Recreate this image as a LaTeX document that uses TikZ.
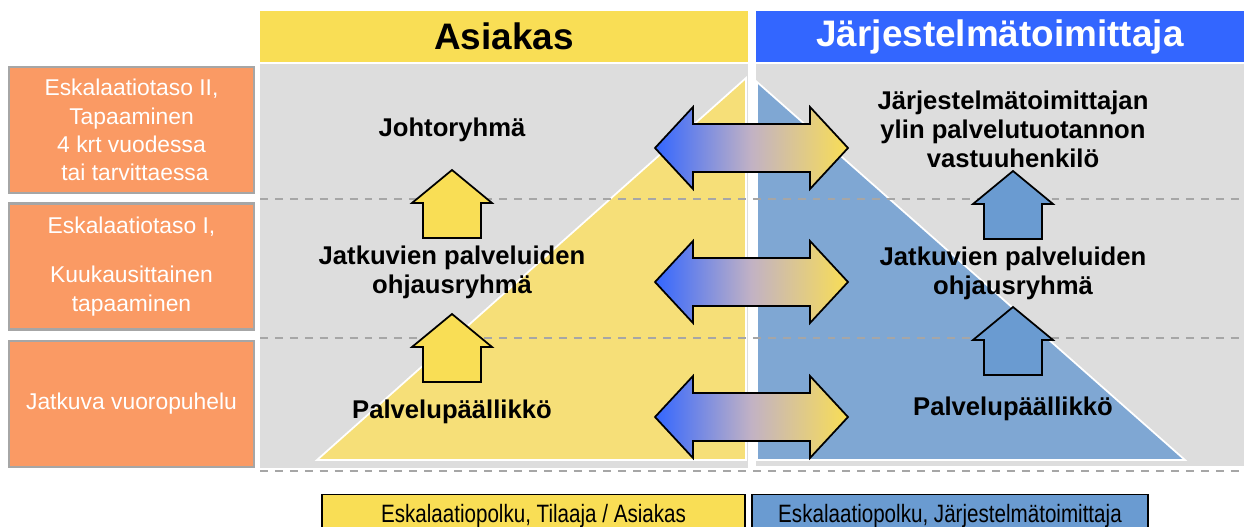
\documentclass[tikz,border=0pt]{standalone}
\usepackage{fontspec}
\setmainfont{Liberation Sans}
\newfontfamily\kapea[FakeStretch=0.82]{Liberation Sans}
\usepackage{xcolor}
\definecolor{keltainen}{HTML}{F9DE55}
\definecolor{kolmioKeltainen}{HTML}{F6DF78}
\definecolor{sininen}{HTML}{3366FF}
\definecolor{valiSavy}{HTML}{C2B2C4}
\definecolor{kolmioSininen}{HTML}{7FA7D3}
\definecolor{nuoliSininen}{HTML}{6A9BD1}
\definecolor{harmaa}{HTML}{DDDDDD}
\definecolor{viiva}{HTML}{A6A6A6}
\definecolor{oranssi}{HTML}{FA9A64}

\tikzset{
  otsikko/.style={minimum width=9.76cm, minimum height=1.02cm, inner sep=0pt,
    font=\fontsize{21}{24}\selectfont\bfseries},
  tasobox/.style={draw=viiva, line width=1.2pt, fill=oranssi, text=white,
    minimum width=4.9cm, minimum height=2.52cm, inner sep=0pt, align=center,
    font=\fontsize{13}{16}\selectfont},
  ryhma/.style={align=center, font=\fontsize{14.6}{16.5}\selectfont\bfseries},
  selite/.style={draw=black, line width=0.8pt, minimum height=0.84cm, inner sep=0pt,
    anchor=north, font=\kapea\fontsize{14.3}{16}\selectfont},
  tasoviiva/.style={viiva, line width=1.2pt, dash pattern=on 4.5pt off 4pt},
  ylos/.pic={\draw[line width=1pt, pic actions] (0,0) -- (40,33) -- (29,33) -- (29,68)
    -- (-29,68) -- (-29,33) -- (-40,33) -- cycle;},
  kaksoisnuoli/.pic={\draw[line width=1pt, left color=sininen, right color=keltainen, middle color=valiSavy]
    (-96.5,0) -- (-58.5,-41) -- (-58.5,-24) -- (58.5,-24) -- (58.5,-41) -- (96.5,0)
    -- (58.5,41) -- (58.5,24) -- (-58.5,24) -- (-58.5,41) -- cycle;},
}

\begin{document}
\begin{tikzpicture}[x=0.02cm, y=-0.02cm]
\useasboundingbox (0,0) rectangle (1244,527);

% paneelit ja kolmiot
\fill[harmaa] (260,64) rectangle (748,468);
\fill[harmaa] (756,64) rectangle (1244,466);
\filldraw[fill=kolmioKeltainen, draw=white, line width=1pt] (317,460) -- (746,78) -- (746,460) -- cycle;
\filldraw[fill=kolmioSininen, draw=white, line width=1pt] (757,82) -- (757,460) -- (1185,460) -- cycle;

\draw[tasoviiva] (260,199) -- (1244,199);
\draw[tasoviiva] (260,338) -- (1244,338);
\draw[tasoviiva] (260,471) -- (1244,471);

% eskalaatiotasot
\node[tasobox] (taso2) at (131.5,130) {Eskalaatiotaso II,\\Tapaaminen\\4 krt vuodessa\\\hspace*{4pt}tai tarvittaessa};
\node[tasobox] (taso1) at (131.5,266.5) {Eskalaatiotaso I,\\[12pt]Kuukausittainen\\tapaaminen};
\node[tasobox] (taso0) at (131.5,404) {Jatkuva vuoropuhelu};

% otsikot
\node[otsikko, fill=keltainen] (asiakas) at (504,36.5) {Asiakas};
\node[otsikko, fill=sininen, text=white] (toimittaja) at (1000,36.5) {Järjestelmätoimittaja};

% ryhmät
\node[ryhma] (johto) at (452,130) {Johtoryhmä};
\node[ryhma] (ohjausA) at (452,272) {Jatkuvien palveluiden\\ohjausryhmä};
\node[ryhma] (palveluA) at (452,412) {Palvelupäällikkö};
\node[ryhma] (vastuu) at (1013,129) {Järjestelmätoimittajan\\ylin palvelutuotannon\\vastuuhenkilö};
\node[ryhma] (ohjausJ) at (1013,273) {Jatkuvien palveluiden\\ohjausryhmä};
\node[ryhma] (palveluJ) at (1013,409) {Palvelupäällikkö};

\pic[fill=keltainen] at (452,170) {ylos};
\pic[fill=keltainen] at (452,314) {ylos};
\pic[fill=nuoliSininen] at (1013,171) {ylos};
\pic[fill=nuoliSininen] at (1013,307) {ylos};

\pic at (751.5,148) {kaksoisnuoli};
\pic at (751.5,282) {kaksoisnuoli};
\pic at (751.5,417) {kaksoisnuoli};

% selitteet
\node[selite, fill=keltainen, minimum width=8.46cm] (seliteA) at (533.5,494) {Eskalaatiopolku, Tilaaja / Asiakas};
\node[selite, fill=nuoliSininen, minimum width=7.92cm] (seliteJ) at (950,494) {Eskalaatiopolku, Järjestelmätoimittaja};
\end{tikzpicture}
\end{document}
